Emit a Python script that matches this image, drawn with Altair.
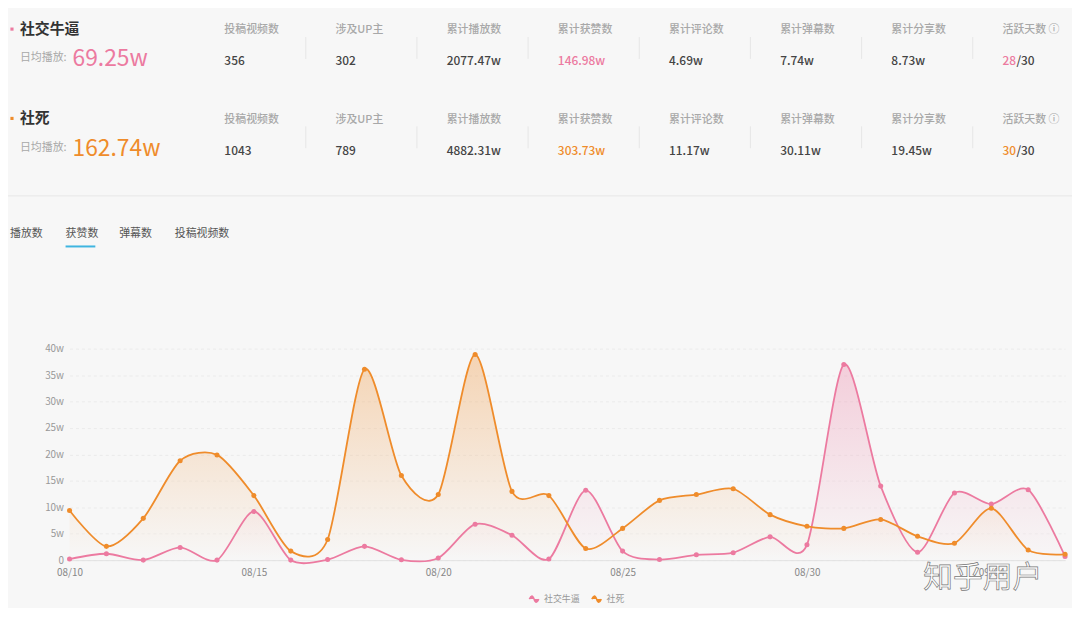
import altair as alt
import pandas as pd

# ---------------- data ----------------
dates = pd.date_range("2021-08-10", "2021-09-06", freq="D").strftime("%Y-%m-%d").tolist()
niubi = [0.2, 1.2, 0.0, 2.4, 0.0, 9.2, 0.0, 0.1, 2.6, 0.05, 0.4, 6.8, 4.7, 0.2,
         13.2, 1.7, 0.1, 1.0, 1.4, 4.4, 2.9, 37.0, 14.0, 1.5, 12.7, 10.6, 13.3, 0.7]
shesi = [9.4, 2.6, 7.9, 18.8, 19.9, 12.2, 1.7, 3.9, 36.1, 16.0, 12.4, 38.9, 13.0, 12.2,
         2.2, 6.0, 11.3, 12.4, 13.5, 8.6, 6.4, 6.0, 7.7, 4.5, 3.2, 9.8, 1.9, 1.1]
series_names = ["社交牛逼", "社死"]
series_colors = ["#ec7aa0", "#ef8c2b"]

stat_labels = ["投稿视频数", "涉及UP主", "累计播放数", "累计获赞数", "累计评论数", "累计弹幕数", "累计分享数", "活跃天数 ⓘ"]
stats_niubi = ["356", "302", "2077.47w", "146.98w", "4.69w", "7.74w", "8.73w", "28"]
stats_shesi = ["1043", "789", "4882.31w", "303.73w", "11.17w", "30.11w", "19.45w", "30"]
daily_avg = ["69.25w", "162.74w"]
tabs = ["播放数", "获赞数", "弹幕数", "投稿视频数"]
x_ticks = [(8, 10), (8, 15), (8, 20), (8, 25), (8, 30), (9, 4)]

# ---------------- layout helpers (page coords -> plot coords) ----------------
OX, OY = 70, 349          # page position of plot origin
PW, PH = 1003, 213        # plot area
FONT = "Noto Sans CJK SC"
BG = "#f7f7f7"

def rx(x):
    return x - OX

def ry(y):
    return y - OY

df = pd.DataFrame({
    "date": dates * 2,
    "value": niubi + shesi,
    "series": [series_names[0]] * len(dates) + [series_names[1]] * len(dates),
})

xenc = alt.X("date:T", scale=alt.Scale(type="utc", domain=[dates[0], dates[-1]]),
             title=None,
             axis=alt.Axis(values=[alt.DateTime(year=2021, month=m, date=d, utc=True) for m, d in x_ticks],
                           labelExpr="utcFormat(datum.value, '%m/%d')",
                           labelFont=FONT, labelFontSize=10,
                           labelColor="#888", labelPadding=8, tickSize=0,
                           domainColor="#e2e2e2", grid=False, labelFlush=False))
yenc = alt.Y("value:Q", scale=alt.Scale(domain=[0, 40], nice=False), title=None,
             axis=alt.Axis(values=[0, 5, 10, 15, 20, 25, 30, 35, 40],
                           labelExpr="datum.value == 0 ? '0' : datum.value + 'w'",
                           labelFont=FONT, labelFontSize=10, labelColor="#999",
                           labelPadding=6, tickSize=0, domain=False,
                           gridColor="#ebebeb", gridDash=[3, 3]))

color_scale = alt.Scale(domain=series_names, range=series_colors)

base = alt.Chart(df)
areas = []
for name, col in zip(series_names, series_colors):
    areas.append(
        base.transform_filter(alt.datum.series == name).mark_area(
            interpolate="cardinal", tension=0.2,
            color=alt.Gradient(gradient="linear",
                               stops=[alt.GradientStop(color=col, offset=0),
                                      alt.GradientStop(color=BG, offset=1)],
                               x1=0, x2=0, y1=0, y2=1),
            opacity=0.33,
        ).encode(x=xenc, y=yenc)
    )

lines = base.mark_line(interpolate="cardinal", tension=0.2, strokeWidth=1.8).encode(
    x=xenc, y=yenc,
    color=alt.Color("series:N", scale=color_scale,
                    legend=alt.Legend(orient="none", legendX=462, legendY=246,
                                      direction="horizontal", title=None,
                                      symbolType="M-1,0C-0.6,-0.9,-0.3,-0.9,0,0C0.3,0.9,0.6,0.9,1,0",
                                      symbolStrokeWidth=1.6, symbolSize=90,
                                      labelFont=FONT, labelFontSize=9, labelColor="#999",
                                      columnPadding=8)),
)
points = base.mark_point(filled=True, size=26, opacity=1).encode(
    x=xenc, y=yenc,
    color=alt.Color("series:N", scale=color_scale, legend=None),
)

# ---------------- header ----------------
col_x = [226 + 112 * i for i in range(len(stat_labels))]
rows = []
for i, lab in enumerate(stat_labels):
    rows.append({"px": rx(col_x[i]), "py": ry(28), "t": lab, "c": "#a8a8a8", "s": 11})
    rows.append({"px": rx(col_x[i]), "py": ry(119), "t": lab, "c": "#a8a8a8", "s": 11})
for i in range(len(stat_labels) - 1):
    for (vals, yy, accent) in [(stats_niubi, 59, series_colors[0]), (stats_shesi, 150, series_colors[1])]:
        rows.append({"px": rx(col_x[i]), "py": ry(yy), "t": vals[i],
                     "c": accent if i == 3 else "#444", "s": 12})
header = pd.DataFrame(rows)

hdr = alt.Chart(header).mark_text(align="left", baseline="middle", font=FONT, fontWeight=500).encode(
    x=alt.X("px:Q", scale=None, axis=None),
    y=alt.Y("py:Q", scale=None, axis=None),
    text="t:N",
    color=alt.Color("c:N", scale=None, legend=None),
    size=alt.Size("s:Q", scale=None, legend=None),
)

def txt(t, x, y, size, color, weight="normal", align="left"):
    return alt.Chart(pd.DataFrame({"t": [t]})).mark_text(
        align=align, baseline="middle", font=FONT, fontSize=size, color=color, fontWeight=weight
    ).encode(x=alt.value(rx(x)), y=alt.value(ry(y)), text="t:N")

def bullet(x, y, color):
    return alt.Chart(pd.DataFrame({"a": [0]})).mark_square(size=10, color=color, opacity=1).encode(
        x=alt.value(rx(x)), y=alt.value(ry(y)))

extra = [
    bullet(12, 27, series_colors[0]),
    txt(series_names[0], 20, 27, 15, "#333", "bold"),
    txt("日均播放:", 20, 56, 11, "#a8a8a8"),
    txt(daily_avg[0], 73, 57, 23, series_colors[0]),
    bullet(12, 117, series_colors[1]),
    txt(series_names[1], 20, 117, 15, "#333", "bold"),
    txt("日均播放:", 20, 147, 11, "#a8a8a8"),
    txt(daily_avg[1], 73, 148, 23, series_colors[1]),
    txt(stats_niubi[-1], col_x[-1], 59, 12, series_colors[0], 500),
    txt("/30", col_x[-1] + 14, 59, 12, "#444", 500),
    txt(stats_shesi[-1], col_x[-1], 150, 12, series_colors[1], 500),
    txt("/30", col_x[-1] + 14, 150, 12, "#444", 500),
]
tab_x = [10, 66, 120, 176]
for t, x in zip(tabs, tab_x):
    extra.append(txt(t, x, 233, 11, "#555"))

sep_rows = []
for i in range(1, len(stat_labels)):
    for (a, b) in [(35, 57), (125, 147)]:
        sep_rows.append({"px": rx(col_x[i] - 30), "py": ry(a), "py2": ry(b)})
seps = alt.Chart(pd.DataFrame(sep_rows)).mark_rule(color="#e6e6e6", strokeWidth=1).encode(
    x=alt.X("px:Q", scale=None, axis=None),
    y=alt.Y("py:Q", scale=None, axis=None),
    y2="py2:Q",
)

divider = alt.Chart(pd.DataFrame({"a": [0]})).mark_rule(color="#e8e8e8", strokeWidth=1).encode(
    x=alt.value(rx(8)), x2=alt.value(rx(1080)), y=alt.value(ry(195)))
underline = alt.Chart(pd.DataFrame({"a": [0]})).mark_rule(color="#3fb5e0", strokeWidth=2).encode(
    x=alt.value(rx(66)), x2=alt.value(rx(96)), y=alt.value(ry(246)))

watermark = alt.Chart(pd.DataFrame({"t": ["知乎用户"]})).mark_text(
    align="center", baseline="middle", font=FONT, fontSize=30, color="#ffffff",
    stroke="#777", strokeWidth=0.7
).encode(x=alt.value(rx(990)), y=alt.value(ry(580)), text="t:N")

chart = alt.layer(
    *areas, lines, points, hdr, seps, divider, underline, *extra, watermark
).properties(
    width=PW, height=PH, background=BG,
    padding={"left": 62, "top": 341, "right": 7, "bottom": 46},
    autosize=alt.AutoSizeParams(type="none"),
).configure_view(stroke=None)

chart.save("out.html", embed_options={"renderer": "svg", "actions": False})
